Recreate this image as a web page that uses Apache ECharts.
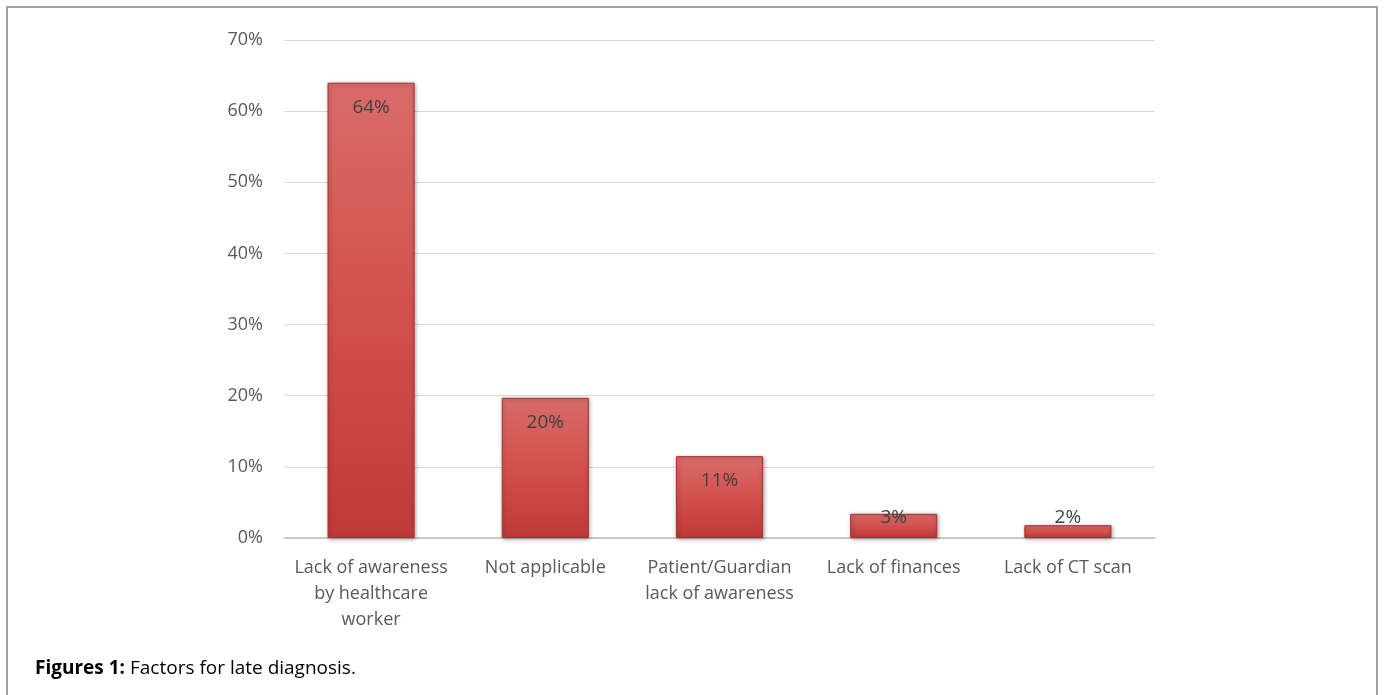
<!DOCTYPE html>
<html>
<head>
<meta charset="utf-8">
<script src="https://cdn.jsdelivr.net/npm/echarts@6/dist/echarts.min.js"></script>
<style>
html,body{margin:0;padding:0;background:#fff;}
#frame{position:absolute;left:6px;top:6px;width:1372px;height:700px;border-left:2px solid #a0a0a0;border-top:2px solid #a0a0a0;border-right:2px solid #a0a0a0;box-sizing:border-box;}
#chart{position:absolute;left:0;top:0;width:1385px;height:695px;}
</style>
</head>
<body>
<div id="frame"></div>
<div id="chart"></div>
<script>
const categories = [
  "Lack of awareness\nby healthcare\nworker",
  "Not applicable",
  "Patient/Guardian\nlack of awareness",
  "Lack of finances",
  "Lack of CT scan"
];
const values = [64, 19.7, 11.5, 3.4, 1.8];
const valueLabels = ["64%", "20%", "11%", "3%", "2%"];
const yTicks = { min: 0, max: 70, interval: 10 };

const chart = echarts.init(document.getElementById('chart'), null, {renderer: 'canvas'});
const FONT = '"Open Sans", sans-serif';

const barColor = {
  type: 'linear', x: 0, y: 0, x2: 0, y2: 1,
  colorStops: [
    {offset: 0, color: '#d86c69'},
    {offset: 0.5, color: '#d2504d'},
    {offset: 1, color: '#c0393a'}
  ]
};

const data = values.map((v, i) => ({
  value: v,
  label: v < 6
    ? {position: 'insideBottom', distance: 11}
    : {position: 'insideTop', distance: 15}
}));

chart.setOption({
  animation: false,
  title: {
    text: '{b|Figures 1:} {n|Factors for late diagnosis.}',
    left: 35, top: 659, padding: 0,
    textStyle: {
      rich: {
        b: {fontFamily: FONT, fontWeight: 'bold', fontSize: 19, color: '#000'},
        n: {fontFamily: FONT, fontWeight: 'normal', fontSize: 19, color: '#000'}
      }
    }
  },
  grid: {left: 284, right: 230, top: 40, bottom: 157, containLabel: false},
  xAxis: {
    type: 'category',
    data: categories,
    axisLine: {lineStyle: {color: '#bfbfbf', width: 1.5}},
    axisTick: {show: false},
    axisLabel: {
      color: '#595959', fontSize: 18, fontFamily: FONT, lineHeight: 26, margin: 17,
      interval: 0
    }
  },
  yAxis: {
    type: 'value',
    min: yTicks.min, max: yTicks.max, interval: yTicks.interval,
    axisLine: {show: false},
    axisTick: {show: false},
    splitLine: {lineStyle: {color: '#d9d9d9', width: 1}},
    axisLabel: {
      color: '#595959', fontSize: 18, fontFamily: FONT, margin: 21,
      formatter: '{value}%'
    }
  },
  series: [{
    type: 'bar',
    data: data,
    barWidth: '50%',
    itemStyle: {
      color: barColor,
      borderColor: '#a83030',
      borderWidth: 1,
      shadowBlur: 4,
      shadowColor: 'rgba(0,0,0,0.35)',
      shadowOffsetX: 1,
      shadowOffsetY: 1
    },
    label: {
      show: true,
      color: '#404040',
      fontSize: 19,
      fontFamily: FONT,
      formatter: p => valueLabels[p.dataIndex]
    }
  }]
});
</script>
</body>
</html>
